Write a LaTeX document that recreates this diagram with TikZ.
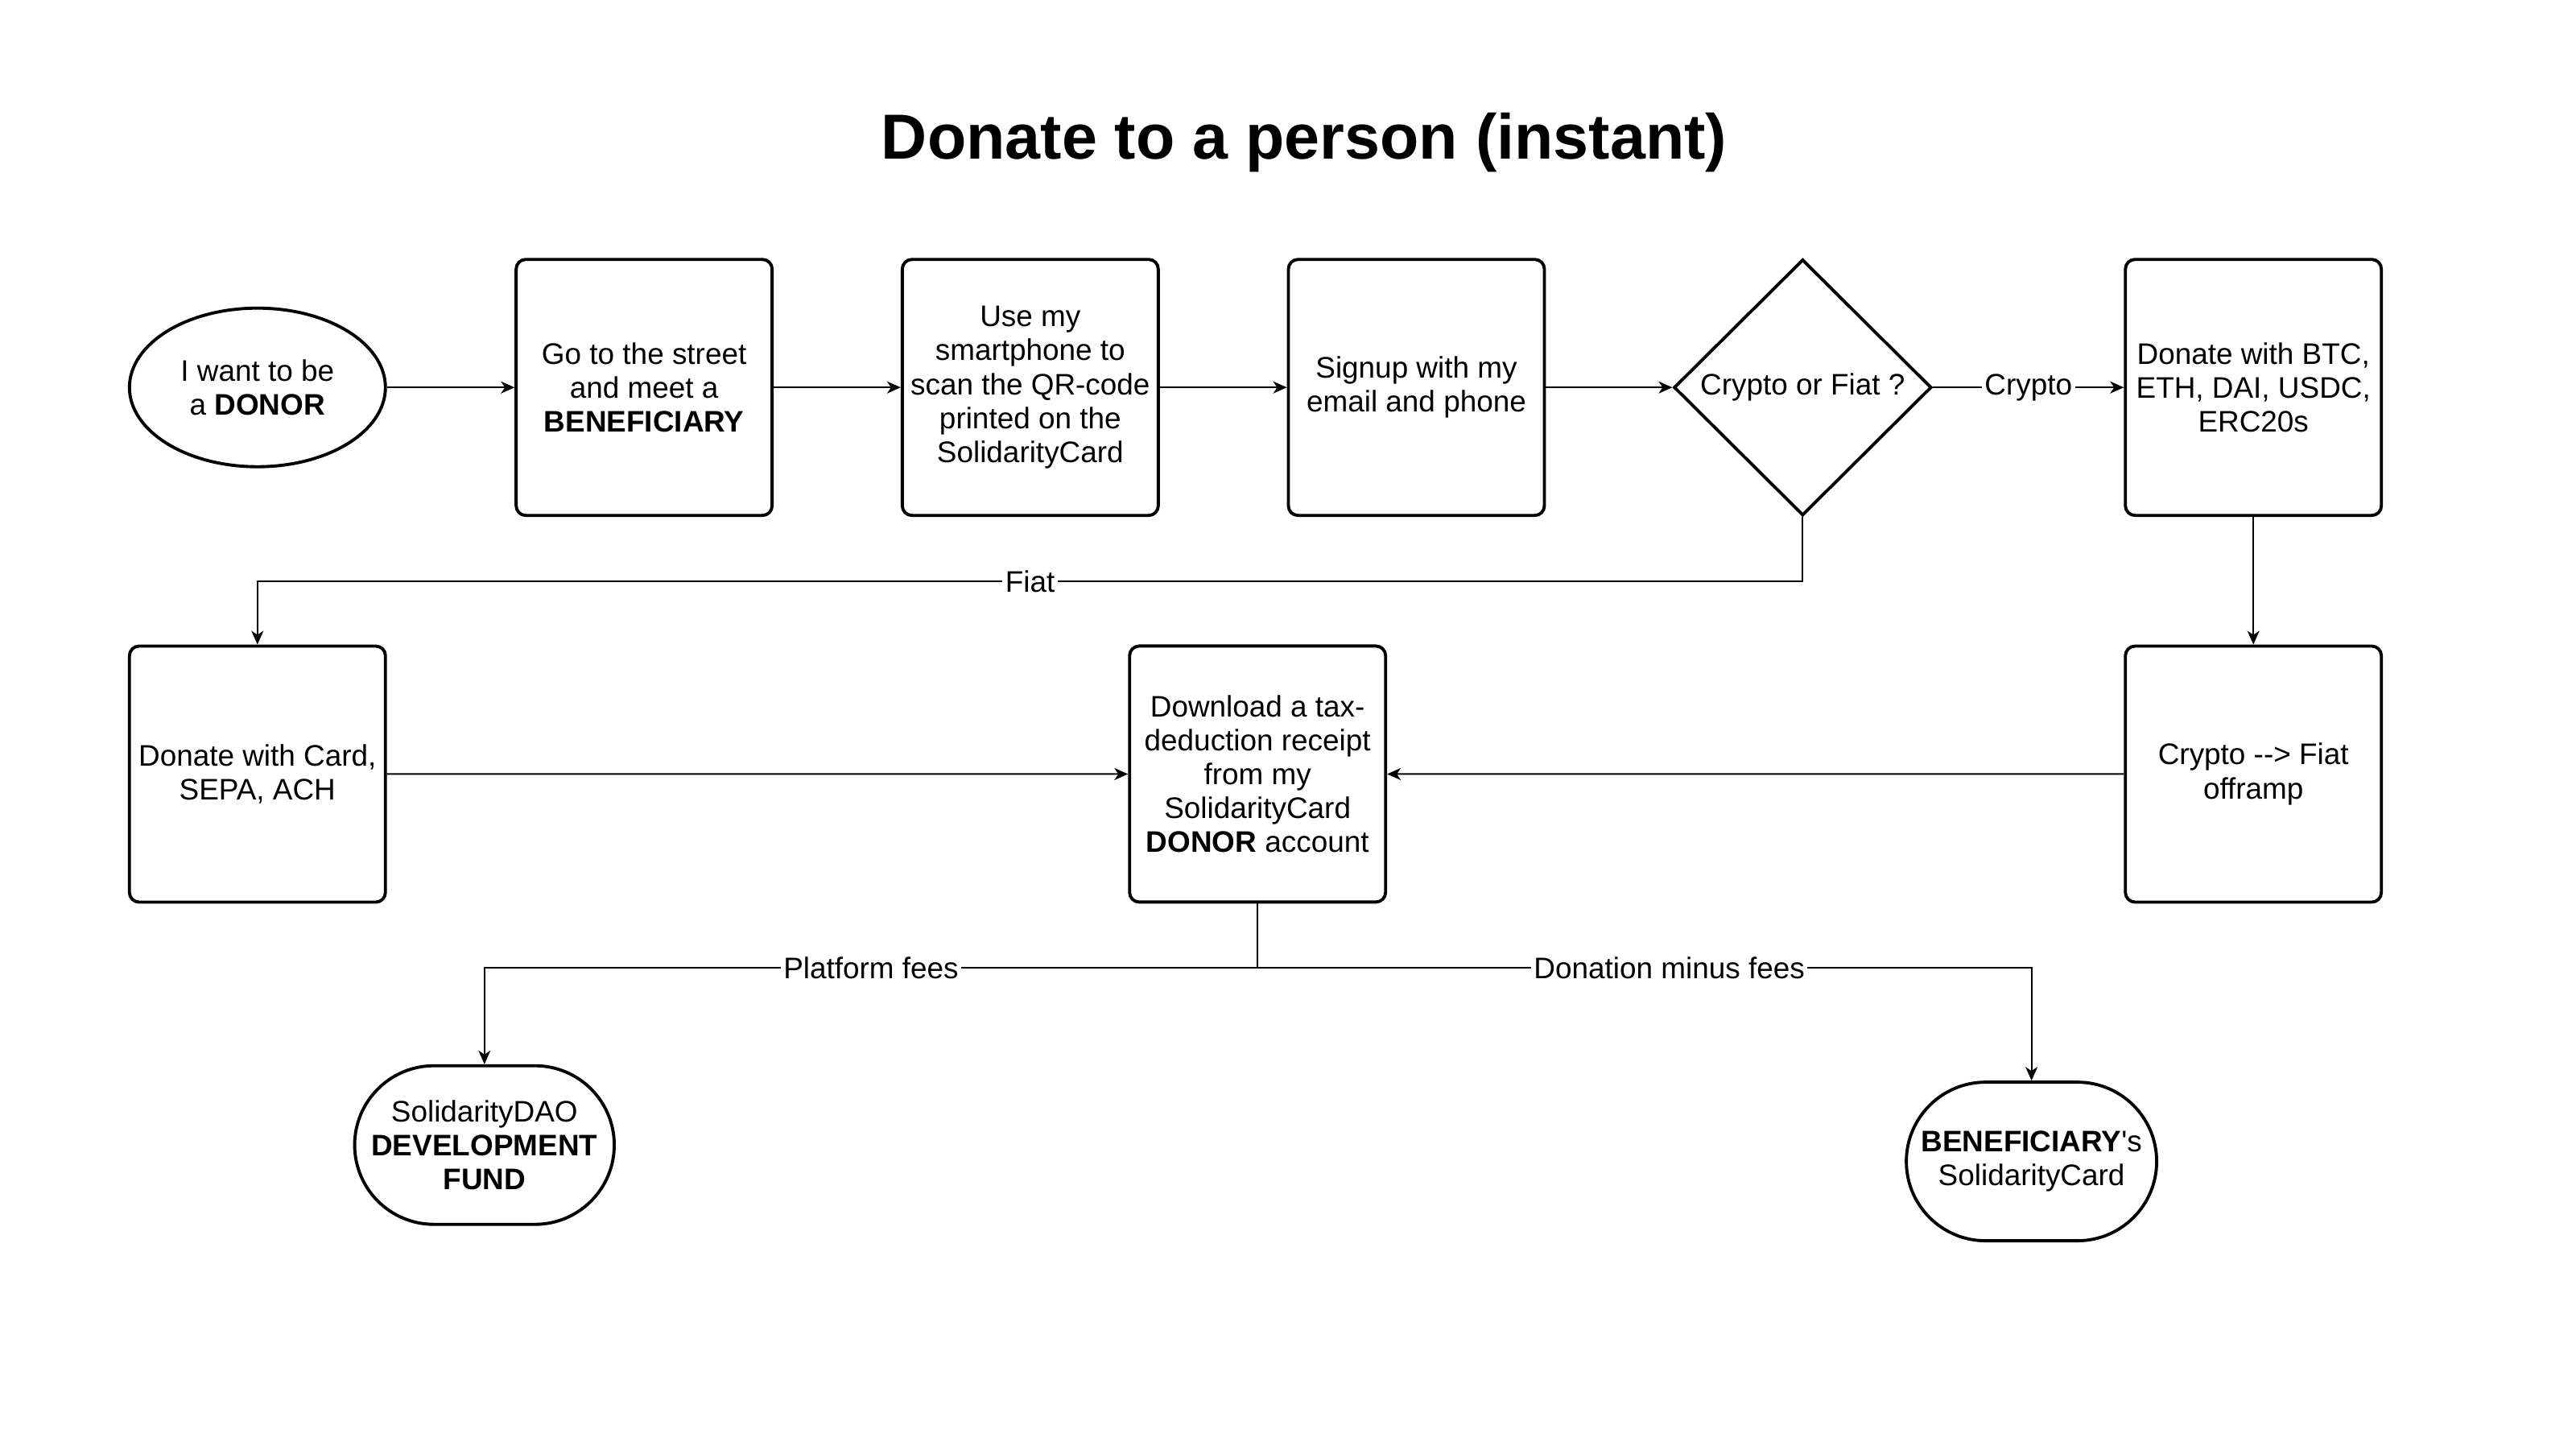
\documentclass[tikz,border=0pt]{standalone}
\usepackage{fontspec}
\setmainfont{Liberation Sans}
\usepackage{tikz}
\usetikzlibrary{shapes.geometric,shapes.misc}
\usetikzlibrary{arrows.meta}
\usetikzlibrary{positioning}

\begin{document}
\begin{tikzpicture}[font=\fontsize{10.5}{12}\selectfont,
    stepbox/.style={draw, line width=1.1pt, rounded corners=0.12cm, minimum width=3.18cm, minimum height=3.18cm, align=center, inner sep=1pt},
    startnode/.style={draw, ellipse, line width=1.1pt, minimum width=3.18cm, minimum height=1.97cm, align=center, inner sep=1pt},
    endnode/.style={draw, rounded rectangle, line width=1.1pt, minimum width=3.18cm, minimum height=1.97cm, align=center, inner sep=1pt},
    choice/.style={draw, diamond, aspect=1, line width=1.1pt, minimum width=3.2cm, minimum height=3.18cm, align=center, inner sep=0pt},
    flow/.style={line width=0.57pt, -{Stealth[length=0.17cm, width=0.15cm, inset=0.05cm]}},
    tag/.style={fill=white, inner sep=1pt}]
    \useasboundingbox (0,0) rectangle (32,-18);
    \node[font=\fontsize{22.5}{27}\selectfont\bfseries] (title) at (16.20,-1.77) {Donate to a person (instant)};
    % first row
    \node[startnode] (donor) at (3.198,-4.812) {I want to be\\a \textbf{DONOR}};
    \node[stepbox, right=1.585cm of donor] (street) {Go to the street\\and meet a\\\textbf{BENEFICIARY}};
    \node[stepbox, right=1.578cm of street] (phone) {Use my\\smartphone to\\scan the QR-code\\printed on the\\SolidarityCard};
    \node[stepbox, right=1.578cm of phone] (signup) {Signup with my\\email and phone};
    \node[choice, right=1.57cm of signup] (decide) {Crypto or Fiat ?};
    \node[stepbox, right=2.37cm of decide] (crypto) {Donate with BTC,\\ETH, DAI, USDC,\\ERC20s};
    % second row
    \node[stepbox, below=1.584cm of crypto] (offramp) {Crypto -{}-> Fiat\\offramp};
    \node[stepbox] (card) at (donor |- offramp) {Donate with Card,\\SEPA, ACH};
    \node[stepbox] (receipt) at (15.622,-9.614) {Download a tax-\\deduction receipt\\from my\\SolidarityCard\\\textbf{DONOR} account};
    % end points
    \node[endnode] (dao) at (6.018,-14.222) {SolidarityDAO\\\textbf{DEVELOPMENT}\\\textbf{FUND}};
    \node[endnode] (benef) at (25.236,-14.426) {\textbf{BENEFICIARY}\textquotesingle s\\SolidarityCard};
    % connectors
    \draw[flow] (donor) -- (street);
    \draw[flow] (street) -- (phone);
    \draw[flow] (phone) -- (signup);
    \draw[flow] (signup) -- (decide);
    \draw[flow] (decide) -- node[tag] {Crypto} (crypto);
    \draw[flow] (decide.south) -- ++(0,-0.80) -| node[tag, pos=0.25] {Fiat} (card.north);
    \draw[flow] (crypto) -- (offramp);
    \draw[flow] (card) -- (receipt);
    \draw[flow] (offramp) -- (receipt);
    \draw[flow] (receipt.south) -- ++(0,-0.80) -| node[tag, pos=0.25] {Platform fees} (dao.north);
    \draw[flow] (receipt.south) -- ++(0,-0.80) -| node[tag, pos=0.266] {Donation minus fees} (benef.north);
\end{tikzpicture}
\end{document}
